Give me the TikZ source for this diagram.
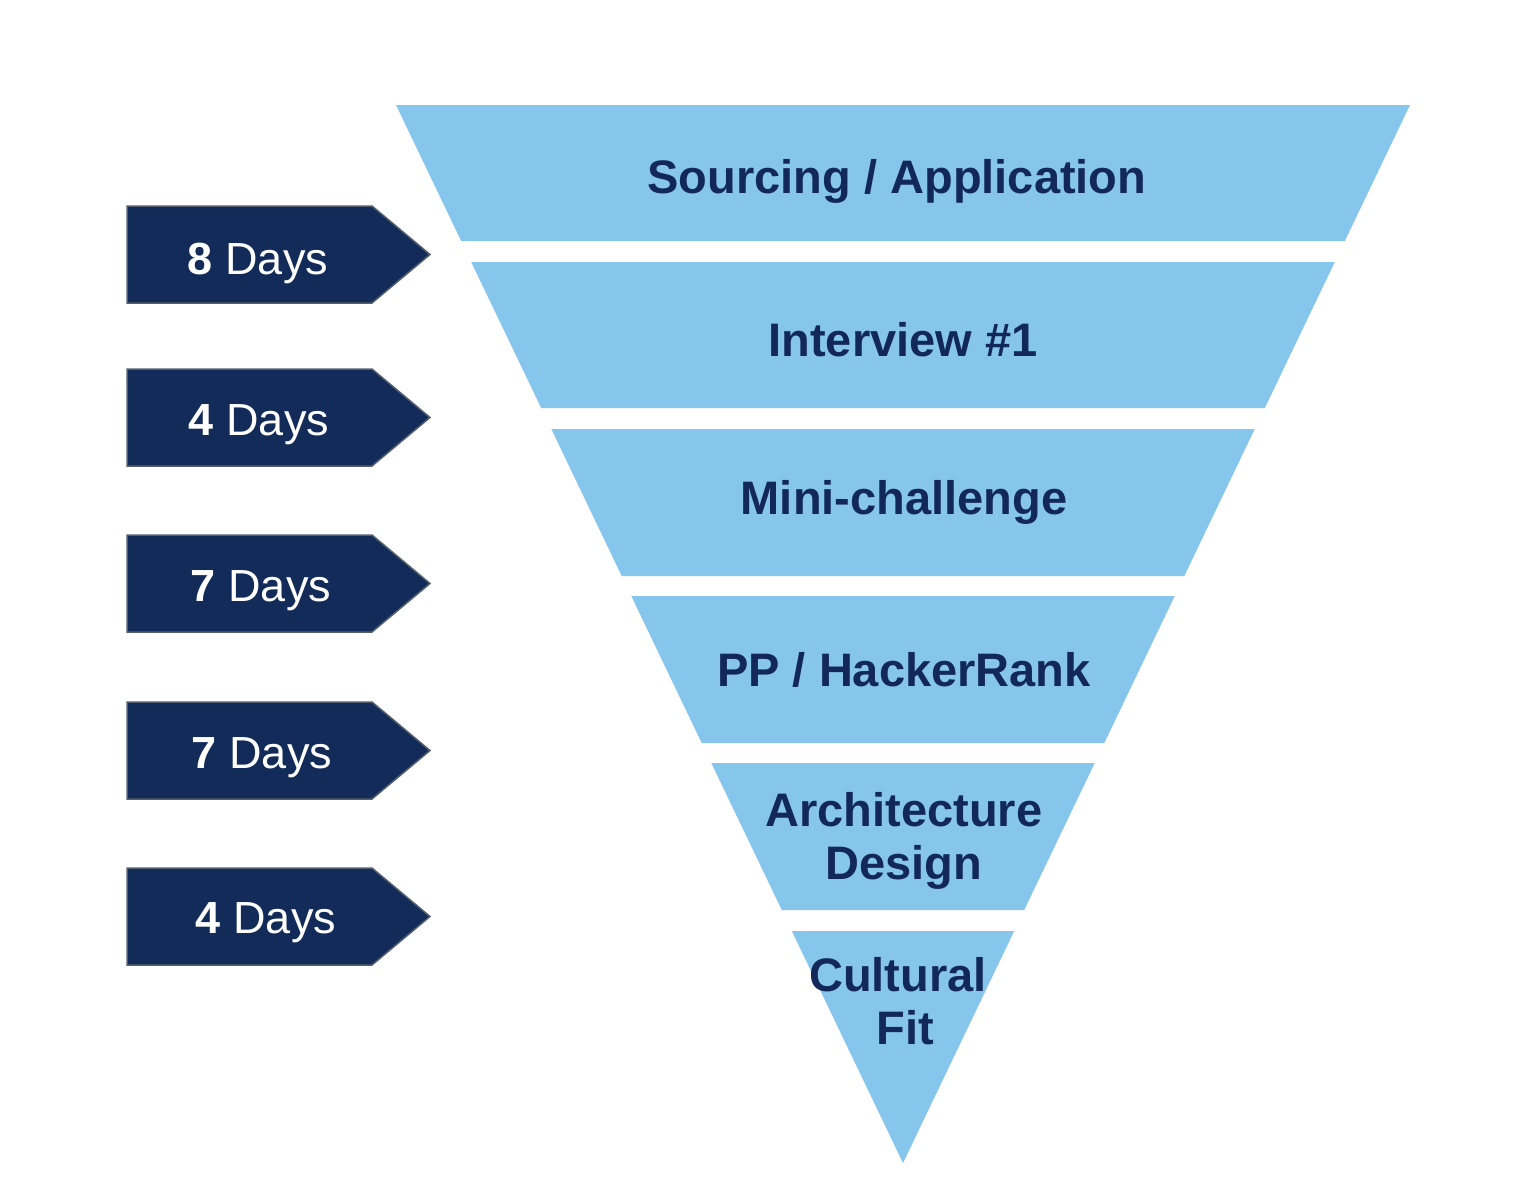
\documentclass[tikz,border=0pt]{standalone}
\usepackage{fontspec}
\setmainfont{Liberation Sans}
\definecolor{funnel}{HTML}{86C5EC}
\definecolor{navy}{HTML}{132B58}
\definecolor{navytext}{HTML}{13285A}
\definecolor{arrowedge}{HTML}{55606E}
\tikzset{
  band/.style={fill=funnel, draw=none},
  daybox/.style={fill=navy, draw=arrowedge, line width=1.5pt, line join=miter},
  bandlabel/.style={text=navytext, font=\fontsize{47}{53}\selectfont\bfseries, align=center, inner sep=0pt},
  daylabel/.style={text=white, font=\fontsize{45}{50}\selectfont, inner sep=0pt}
}
\begin{document}
\begin{tikzpicture}[x=1pt,y=-1pt]
\useasboundingbox (0,0) rectangle (1540,1202);
\fill[white] (0,0) rectangle (1540,1202);
% funnel bands
\path[band] (396,105) -- (1410,105) -- (1344.8,241) -- (461.2,241) -- cycle;
\path[band] (471.2,262) -- (1334.8,262) -- (1264.8,408) -- (541.2,408) -- cycle;
\path[band] (551.3,429) -- (1254.7,429) -- (1184.3,576) -- (621.7,576) -- cycle;
\path[band] (631.3,596) -- (1174.7,596) -- (1104.3,743) -- (701.7,743) -- cycle;
\path[band] (711.3,763) -- (1094.7,763) -- (1024.2,910) -- (781.8,910) -- cycle;
\path[band] (791.8,931) -- (1014.2,931) -- (903,1163) -- cycle;
% band labels
\node[bandlabel] (b1) at (897,181) {Sourcing / Application};
\node[bandlabel] (b2) at (903,340) {Interview \#1};
\node[bandlabel] (b3) at (904,502) {Mini-challenge};
\node[bandlabel] (b4) at (904,670) {PP / HackerRank};
\node[bandlabel] (b5) at (904,841) {Architecture\\Design};
\node[bandlabel] (b6) at (898,1001) {Cultural\\\hspace*{14pt}Fit};
% day arrows
\foreach \t/\m in {206/8,369/4,535/7,702/7,868/4}{
  \path[daybox] (127,\t) -- (372,\t) -- (430,\t+48.5) -- (372,\t+97) -- (127,\t+97) -- cycle;
}
\node[daylabel] (d1) at (258,263) {\textbf{8} Days};
\node[daylabel] (d2) at (259,425) {\textbf{4} Days};
\node[daylabel] (d3) at (261,591) {\textbf{7} Days};
\node[daylabel] (d4) at (262,758) {\textbf{7} Days};
\node[daylabel] (d5) at (266,923) {\textbf{4} Days};
\end{tikzpicture}
\end{document}
